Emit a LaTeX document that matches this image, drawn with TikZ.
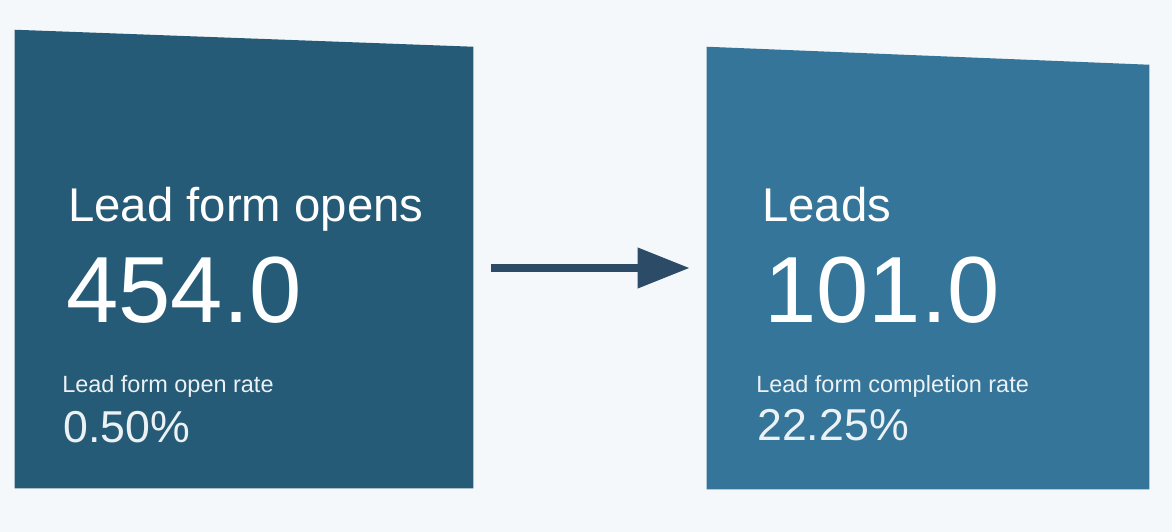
\documentclass[tikz,border=0pt]{standalone}
\usepackage{fontspec}
\setmainfont{Liberation Sans}
\usetikzlibrary{arrows.meta,positioning}
\definecolor{funnelbg}{RGB}{245,248,250}
\definecolor{opensblue}{RGB}{37,91,119}
\definecolor{leadsblue}{RGB}{52,117,153}
\definecolor{flowink}{RGB}{43,75,103}
\definecolor{softwhite}{RGB}{236,241,244}

\begin{document}
\begin{tikzpicture}[x=0.75pt,y=-0.75pt,
  card/.style={rectangle,inner sep=0pt,minimum width=#1*0.75pt,minimum height=#1*0.75pt},
  head/.style={anchor=base west,text=white,inner sep=0pt,font=\fontsize{35.5}{40}\selectfont},
  bignum/.style={anchor=base west,text=white,inner sep=0pt,font=\fontsize{70.5}{80}\selectfont},
  sub/.style={anchor=base west,text=softwhite,inner sep=0pt,font=\fontsize{17.6}{20}\selectfont},
  rate/.style={anchor=base west,text=softwhite,inner sep=0pt,font=\fontsize{33.5}{38}\selectfont},
  flow/.style={-{Triangle[length=39pt,width=29pt]},line width=6pt,flowink}]
\fill[funnelbg] (0,0) rectangle (1172,532);
\useasboundingbox (0,0) rectangle (1172,532);
% the two stages
\node[card=458] (opens) at (244,259) {};
\node[card=442] (leads) at (928,268) {};
\fill[opensblue] (opens.south west) -- (opens.south east) -- ([yshift=-12.75pt]opens.north east) -- (opens.north west) -- cycle;
\fill[leadsblue] (leads.south west) -- (leads.south east) -- ([yshift=-13.5pt]leads.north east) -- (leads.north west) -- cycle;
% texts
\node[head] (opensT) at (68,221) {Lead form opens};
\node[bignum] (opensN) at (66,322) {454.0};
\node[sub] (opensR) at (62,392) {Lead form open rate};
\node[rate] (opensP) at (63,442) {0.50\%};
\node[head] (leadsT) at (762,221) {Leads};
\node[bignum] (leadsN) at (764,322) {101.0};
\node[sub] (leadsR) at (756,392) {Lead form completion rate};
\node[rate] (leadsP) at (757,440) {22.25\%};
% arrow
\draw[flow,shorten <=13.5pt,shorten >=12.75pt] (opens.east |- leads.west) -- (leads.west);
\end{tikzpicture}
\end{document}
